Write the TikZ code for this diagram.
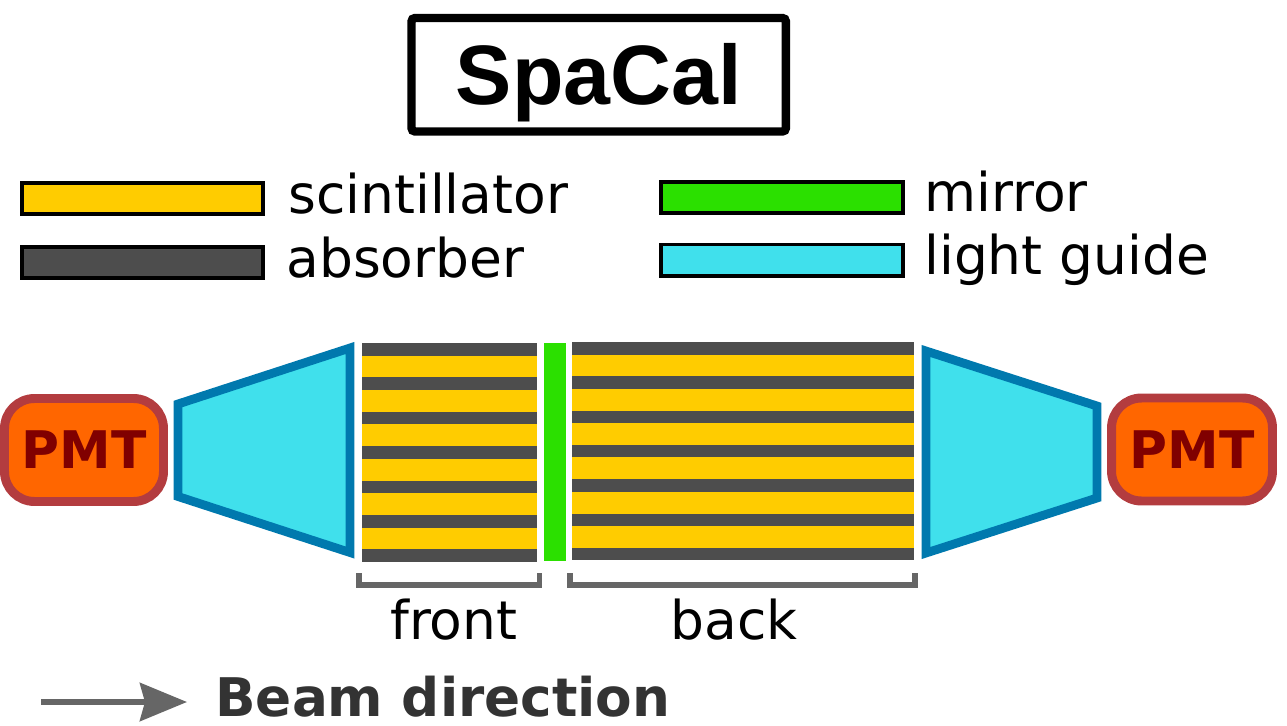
\documentclass[tikz,border=0pt]{standalone}
\usepackage{fontspec}
\setmainfont{DejaVu Sans}
\newfontfamily\titlefont{Liberation Sans}
\usetikzlibrary{arrows.meta}
\definecolor{scintcol}{HTML}{FFCC00}
\definecolor{absorbcol}{HTML}{4D4D4D}
\definecolor{mirrorcol}{HTML}{2BE000}
\definecolor{guidecol}{HTML}{40E0EC}
\definecolor{guideline}{HTML}{0079AE}
\definecolor{pmtcol}{HTML}{FF6600}
\definecolor{pmtline}{HTML}{B33C3F}
\definecolor{pmttext}{HTML}{800000}
\definecolor{bracketcol}{HTML}{666666}
\tikzset{
    legendbox/.style={draw=black,line width=2pt},
    guidebox/.style={draw=guideline,fill=guidecol,line width=5pt,miter limit=10},
    pmtbox/.style={draw=pmtline,fill=pmtcol,line width=5.1pt,rounded corners=.6cm,minimum height=2.06cm,inner sep=0,text=pmttext,font=\fontsize{29.5pt}{30pt}\selectfont\bfseries},
    label/.style={anchor=base west,inner sep=0,font=\fontsize{30.4pt}{32pt}\selectfont},
    bracket/.style={draw=bracketcol,line width=3.2pt}
}
\begin{document}
\begin{tikzpicture}[x=.02cm,y=-.02cm]
    \useasboundingbox (0,0) rectangle (1287,726);
    \node [draw=black,line width=4.8pt,rounded corners=2pt,minimum width=7.49cm,minimum height=2.27cm,inner sep=0,text height=1.48cm,text depth=.3cm,font=\fontsize{48pt}{50pt}\selectfont\titlefont\bfseries] (Title) at (598.7,74.75) {SpaCal};
    % legend
    \draw [legendbox,fill=scintcol] (22,183) rectangle (263,214);
    \draw [legendbox,fill=absorbcol] (22,247) rectangle (263,278);
    \draw [legendbox,fill=mirrorcol] (661,182) rectangle (903,213);
    \draw [legendbox,fill=guidecol] (661,244.5) rectangle (903,276);
    \node [label] (Scint) at (288,214) {scintillator};
    \node [label] (Absorb) at (286,277) {absorber};
    \node [label] (Mirror) at (924,212) {mirror};
    \node [label] (Guide) at (924,274.5) {light guide};
    % front and back stacks
    \fill [scintcol] (362,343) rectangle (537,561);
    \fill [scintcol] (572,342) rectangle (914,560);
    \foreach \i in {0,...,6} {
        \fill [absorbcol] (362,343+34.4*\i) rectangle (537,355.5+34.4*\i);
        \fill [absorbcol] (572,342+34.3*\i) rectangle (914,354.5+34.3*\i);
    }
    \fill [mirrorcol] (543.5,343) rectangle (566,561);
    % light guides
    \draw [guidebox] (178,404) -- (350,348) -- (350,552.5) -- (178,496.5) -- cycle;
    \draw [guidebox] (926,351) -- (1097,406) -- (1097,498) -- (926,553) -- cycle;
    \node [pmtbox,minimum width=3.18cm] (PmtLeft) at (84,450) {PMT};
    \node [pmtbox,minimum width=3.22cm] (PmtRight) at (1192,449.5) {PMT};
    % brackets
    \draw [bracket] (359,573) -- (359,585) -- (539.5,585) -- (539.5,573);
    \draw [bracket] (570,573) -- (570,585) -- (915,585) -- (915,573);
    \node [label] (Front) at (390,639) {front};
    \node [label] (Back) at (670,639) {back};
    % beam
    \coordinate (BeamStart) at (41,702);
    \coordinate (BeamEnd) at (187,702);
    \draw [-{Stealth[length=.94cm,width=.76cm,inset=.1cm]},draw=bracketcol,fill=bracketcol,line width=3.4pt] (BeamStart) -- (BeamEnd);
    \node [label,text=black!80,text depth=0pt,font=\fontsize{30.3pt}{32pt}\selectfont\bfseries] (Beam) at (215,716) {Beam direction};
\end{tikzpicture}
\end{document}
